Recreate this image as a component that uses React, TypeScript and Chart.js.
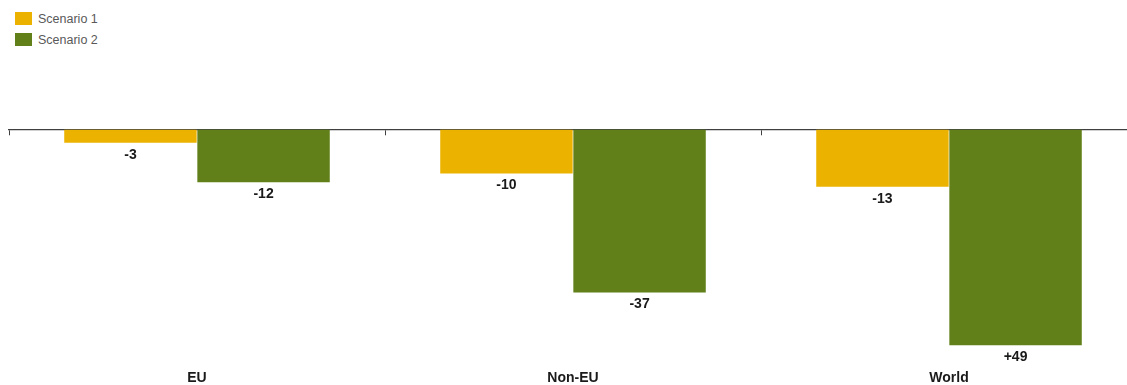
import React, { useEffect, useRef } from "react";
import { Chart, registerables } from "chart.js";

Chart.register(...registerables);

const categories = ["EU", "Non-EU", "World"];
const seriesNames = ["Scenario 1", "Scenario 2"];
const scenario1 = [-3, -10, -13];
const scenario2 = [-12, -37, -49];
const scenario1Labels = ["-3", "-10", "-13"];
const scenario2Labels = ["-12", "-37", "+49"];
const colors = ["#EBB300", "#61801A"];

const FONT = "'Liberation Sans', Arial, Helvetica, sans-serif";

const valueLabelPlugin = {
  id: "valueLabels",
  afterDatasetsDraw(chart: any) {
    const ctx = chart.ctx;
    const labelSets = [scenario1Labels, scenario2Labels];
    ctx.save();
    ctx.font = `bold 14px ${FONT}`;
    ctx.fillStyle = "#1a1a1a";
    ctx.textAlign = "center";
    ctx.textBaseline = "middle";
    chart.data.datasets.forEach((ds: any, di: number) => {
      const meta = chart.getDatasetMeta(di);
      meta.data.forEach((el: any, i: number) => {
        ctx.fillText(labelSets[di][i], el.x, el.y + 12);
      });
    });
    ctx.restore();
  },
};

export default function App() {
  const ref = useRef<HTMLCanvasElement | null>(null);

  useEffect(() => {
    document.body.style.margin = "0";
    document.body.style.overflow = "hidden";
    const chart = new Chart(ref.current as HTMLCanvasElement, {
      type: "bar",
      data: {
        labels: categories,
        datasets: [
          {
            label: seriesNames[0],
            data: scenario1,
            backgroundColor: colors[0],
            categoryPercentage: 0.708,
            barPercentage: 0.995,
          },
          {
            label: seriesNames[1],
            data: scenario2,
            backgroundColor: colors[1],
            categoryPercentage: 0.708,
            barPercentage: 0.995,
          },
        ],
      },
      options: {
        animation: false,
        responsive: true,
        maintainAspectRatio: false,
        layout: { padding: { left: 9, right: 3, top: 129.5, bottom: -4 } },
        plugins: {
          legend: { display: false },
          tooltip: { enabled: false },
        },
        scales: {
          y: {
            display: false,
            min: -54.2,
            max: 0,
          },
          x: {
            type: "category",
            position: { y: 0 } as any,
            offset: true,
            ticks: { display: false },
            grid: {
              display: true,
              offset: true,
              drawOnChartArea: false,
              drawTicks: true,
              tickLength: 5,
              color: "#404040",
              lineWidth: 1,
            },
            border: { display: true, color: "#404040", width: 1.3 },
          },
          x2: {
            type: "category",
            position: "bottom",
            offset: true,
            grid: { display: false, drawTicks: false },
            border: { display: false },
            ticks: {
              padding: 2,
              color: "#1a1a1a",
              font: { family: FONT, size: 14, weight: "bold" },
            },
          },
        },
      },
      plugins: [valueLabelPlugin],
    });
    return () => chart.destroy();
  }, []);

  const legendItem = (name: string, color: string) => (
    <div
      key={name}
      style={{ display: "flex", alignItems: "center", height: 21 }}
    >
      <div
        style={{
          width: 17,
          height: 13,
          background: color,
          marginRight: 6,
        }}
      />
      <span style={{ fontFamily: FONT, fontSize: 12.5, color: "#595959" }}>
        {name}
      </span>
    </div>
  );

  return (
    <div
      style={{
        position: "relative",
        width: 1127,
        height: 385,
        overflow: "hidden",
        background: "#fff",
      }}
    >
      <div style={{ position: "absolute", left: 15, top: 8 }}>
        {legendItem(seriesNames[0], colors[0])}
        {legendItem(seriesNames[1], colors[1])}
      </div>
      <div style={{ position: "absolute", left: 0, top: 0, width: 1140, height: 385 }}>
        <canvas ref={ref} />
      </div>
    </div>
  );
}
